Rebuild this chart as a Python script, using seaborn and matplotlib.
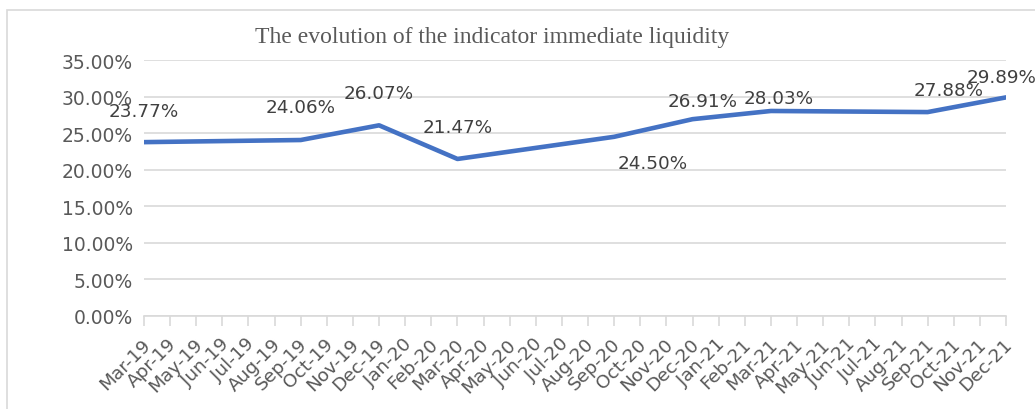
import numpy as np
import pandas as pd
import matplotlib
matplotlib.use("Agg")
import matplotlib.pyplot as plt
import seaborn as sns
from matplotlib.ticker import FuncFormatter
from matplotlib.patches import Rectangle
from matplotlib.transforms import ScaledTranslation

# ---- data ----
months = ["Mar-19", "Apr-19", "May-19", "Jun-19", "Jul-19", "Aug-19", "Sep-19", "Oct-19",
          "Nov-19", "Dec-19", "Jan-20", "Feb-20", "Mar-20", "Apr-20", "May-20", "Jun-20",
          "Jul-20", "Aug-20", "Sep-20", "Oct-20", "Nov-20", "Dec-20", "Jan-21", "Feb-21",
          "Mar-21", "Apr-21", "May-21", "Jun-21", "Jul-21", "Aug-21", "Sep-21", "Oct-21",
          "Nov-21", "Dec-21"]
obs_months = ["Mar-19", "Sep-19", "Dec-19", "Mar-20", "Sep-20", "Dec-20", "Mar-21", "Sep-21", "Dec-21"]
obs_values = [0.2377, 0.2406, 0.2607, 0.2147, 0.2450, 0.2691, 0.2803, 0.2788, 0.2989]
y_ticks = [0.0, 0.05, 0.10, 0.15, 0.20, 0.25, 0.30, 0.35]
title = "The evolution of the indicator immediate liquidity"

# label offsets in pixels (dx, dy) - placement only
label_offsets_px = [(0, 31), (0, 33), (0, 32), (0, 32), (39, -26), (10, 18), (8, 13), (21, 22), (-4, 20)]

df = pd.DataFrame({"month": obs_months, "value": obs_values})
df["pos"] = [months.index(m) for m in obs_months]

sns.set_theme(style="white")
plt.rcParams['font.family'] = ['DejaVu Sans']

fig = plt.figure(figsize=(10.35, 4.10), dpi=100)
ax = fig.add_axes([144/1035, 1-317/410, (1006-144)/1035, (317-61)/410])

# border of chart area
fig.patches.append(Rectangle((7/1035, -0.1), 1.2, (399/410) + 0.1, transform=fig.transFigure,
                             fill=False, edgecolor="#D9D9D9", linewidth=1.2, zorder=0))

sns.lineplot(data=df, x="pos", y="value", ax=ax, color="#4472C4", linewidth=3.3,
             solid_capstyle="round", solid_joinstyle="round", zorder=3)

ax.set_xlim(0, len(months) - 1)
ax.set_ylim(0, 0.35)
ax.set_yticks(y_ticks)
ax.yaxis.set_major_formatter(FuncFormatter(lambda v, p: f"{v*100:.2f}%"))
ax.set_xticks(range(len(months)))
ax.set_xticklabels(months, rotation=45, ha="right", va="center", rotation_mode="anchor")
ax.tick_params(axis="y", labelsize=13.5, labelcolor="#595959", length=0, pad=8)
ax.tick_params(axis="x", labelsize=13.3, labelcolor="#595959", length=7, width=1.2,
               color="#D9D9D9", direction="out", bottom=True, pad=11)
for lab in ax.get_xticklabels():
    lab.set_transform(lab.get_transform() + ScaledTranslation(2.5/72, 0, fig.dpi_scale_trans))
ax.set_xlabel("")
ax.set_ylabel("")
ax.grid(axis="y", color="#D9D9D9", linewidth=1.2)
ax.set_axisbelow(True)
for s in ["top", "right", "left"]:
    ax.spines[s].set_visible(False)
ax.spines["bottom"].set_color("#D9D9D9")
ax.spines["bottom"].set_linewidth(1.2)

for (p, v), (dx, dy) in zip(zip(df["pos"], df["value"]), label_offsets_px):
    ax.annotate(f"{v*100:.2f}%", (p, v), xytext=(dx*0.72, dy*0.72), textcoords="offset points",
                ha="center", va="center", fontsize=13.2, color="#404040", clip_on=False,
                annotation_clip=False)

fig.text(492/1035, 1-37/410, title, ha="center", va="center", fontsize=17,
         family=["Liberation Serif", "DejaVu Serif"], color="#595959")

fig.savefig("out.png", dpi=100)
